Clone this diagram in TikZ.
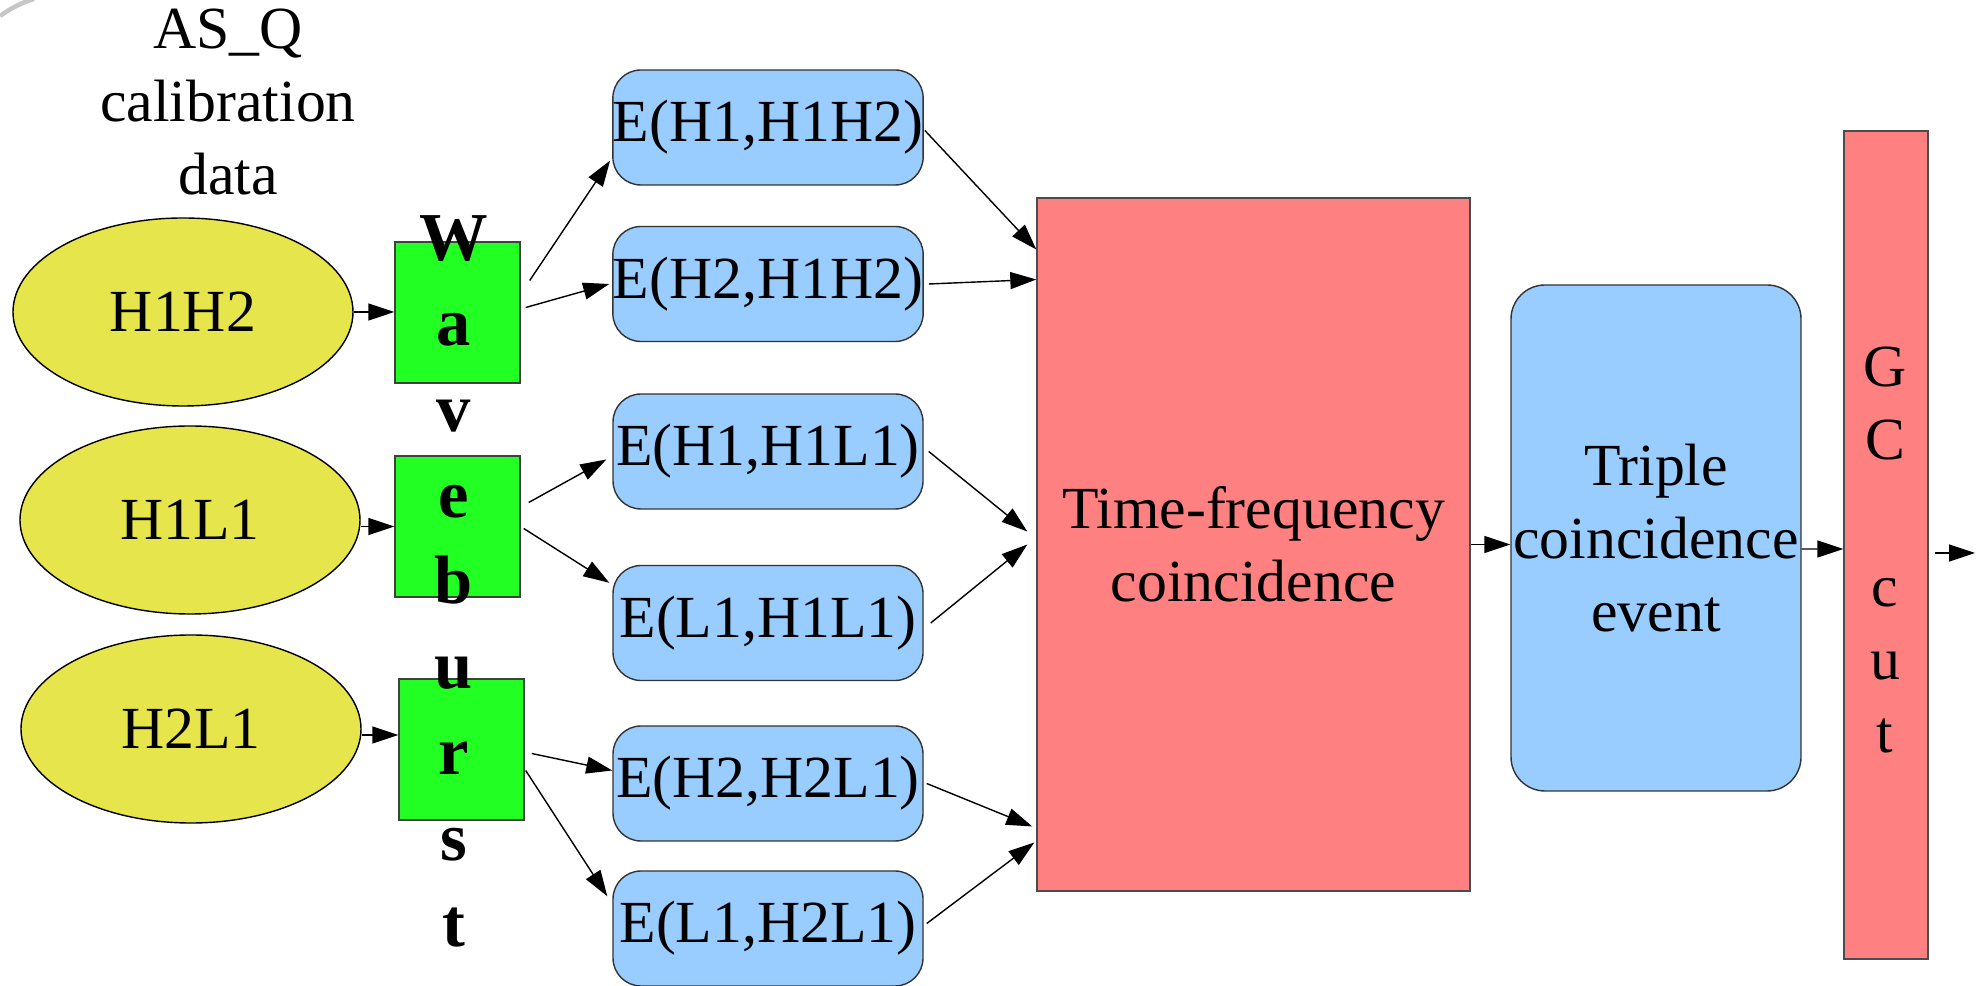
\documentclass[tikz,border=0pt]{standalone}
\usepackage{fontspec}
\setmainfont{Liberation Serif}
\definecolor{datagelb}{HTML}{E6E64C}
\definecolor{wbgruen}{HTML}{22FF22}
\definecolor{evblau}{HTML}{99CCFF}
\definecolor{cutrot}{HTML}{FF8080}
\usetikzlibrary{arrows.meta, shapes.geometric, positioning, calc}

\begin{document}
\begin{tikzpicture}[
    x=1mm, y=1mm,
    font=\fontsize{17pt}{20.8pt}\selectfont,
    datanode/.style={ellipse, draw=black, fill=datagelb, line width=0.4pt,
                     minimum width=34mm, minimum height=18.8mm, inner sep=0pt},
    wbox/.style={rectangle, draw=black!75, fill=wbgruen, line width=0.4pt,
                 minimum width=12.5mm, minimum height=14.1mm, inner sep=0pt},
    evbox/.style={rectangle, rounded corners=2.8mm, draw=black!80, fill=evblau,
                  minimum width=31mm, minimum height=11.5mm, inner sep=0pt},
    cutbox/.style={rectangle, draw=black!70, fill=cutrot, inner sep=0pt,
                   align=center},
    arr/.style={-{Triangle[length=2.6mm, width=1.7mm]}, line width=0.4pt, black}
  ]
  \useasboundingbox (0,0) rectangle (197.9,-98.6);

  % slide decoration in the corner
  \draw[gray!45, line width=1.3pt] (0,-1.6) .. controls (1.1,-0.8) and (2.3,-0.2) .. (3.4,0.1);

  % input data
  \node[align=center] (asq) at (22.8,-10.2) {AS\_Q\\ calibration\\ data};
  \node[datanode] (e1) at (18.3,-31.2) {H1H2};
  \node[datanode] (e2) at (19.0,-52.0) {H1L1};
  \node[datanode] (e3) at (19.1,-72.9) {H2L1};

  % waveburst stages
  \node[wbox] (w1) at (45.75,-31.25) {};
  \node[wbox] (w2) at (45.75,-52.65) {};
  \node[wbox] (w3) at (46.15,-74.95) {};
  \node[align=center, inner sep=0pt,
        font=\fontsize{19.5pt}{24.4pt}\selectfont\bfseries] (wb) at (45.35,-58.1)
    {W\\ a\\ v\\ e\\ b\\ u\\ r\\ s\\ t};

  % event lists
  \node[evbox] (E1) at (76.8,-12.75) {E(H1,H1H2)};
  \node[evbox] (E2) at (76.8,-28.4)  {E(H2,H1H2)};
  \node[evbox] (E3) at (76.8,-45.15) {E(H1,H1L1)};
  \node[evbox] (E4) at (76.8,-62.3)  {E(L1,H1L1)};
  \node[evbox] (E5) at (76.8,-78.35) {E(H2,H2L1)};
  \node[evbox] (E6) at (76.8,-92.85) {E(L1,H2L1)};

  % coincidence and cuts
  \node[cutbox, minimum width=43.3mm, minimum height=69.3mm] (red) at (125.35,-54.45)
    {Time-frequency\\ coincidence};
  \node[cutbox, fill=evblau, rounded corners=3.4mm, draw=black!80,
        minimum width=29mm, minimum height=50.6mm] (trip) at (165.6,-53.8)
    {Triple\\ coincidence\\ event};
  \node[cutbox, minimum width=8.4mm, minimum height=82.8mm] (gc) at (188.6,-54.5) {};
  \node[align=center, inner sep=0pt] (gclab) at (188.5,-55.0) {G\\ C\\ \mbox{}\\ c\\ u\\ t};
  \coordinate (out) at (197.5,-55.3);

  \draw[arr] (e1.east) -- (e1.east -| w1.west);
  \draw[arr] (e2.east |- w2.west) -- (w2.west);
  \coordinate (e3o) at ([yshift=-0.6mm]e3.east);
  \draw[arr] (e3o) -- (e3o -| w3.west);

  \draw[arr] ([shift={(0.9,3.2)}]w1.east) -- ([shift={(-0.2,-3.3)}]E1.west);
  \draw[arr] ([shift={(0.5,0.5)}]w1.east) -- ([xshift=-0.3mm]E2.west);
  \draw[arr] ([shift={(0.8,2.4)}]w2.east) -- ([shift={(-0.6,-0.8)}]E3.west);
  \draw[arr] ([shift={(0.3,-0.2)}]w2.east) -- ([shift={(-0.3,-1.8)}]E4.north west);
  \draw[arr] ([shift={(0.7,-0.4)}]w3.east) -- ([yshift=1.3mm]E5.west);
  \draw[arr] ([shift={(0.1,-2.1)}]w3.east) -- ([shift={(-0.5,-2.6)}]E6.north west);

  \draw[arr] ([shift={(0.1,-0.3)}]E1.east) -- ([yshift=29.5mm]red.west);
  \draw[arr] ([xshift=0.5mm]E2.east) -- ([yshift=26.5mm]red.west);
  \draw[arr] ([xshift=0.5mm]E3.east) -- ([shift={(-0.9,1.3)}]red.west);
  \draw[arr] ([xshift=0.7mm]E4.east) -- ([xshift=-0.9mm]red.west);
  \draw[arr] ([xshift=0.3mm]E5.east) -- ([shift={(-0.4,-28.2)}]red.west);
  \draw[arr] ([shift={(0.3,0.5)}]E6.east) -- ([shift={(-0.2,-29.8)}]red.west);

  \draw[arr] (red.east) -- (red.east -| trip.west);
  \draw[arr] ([yshift=-1.1mm]trip.east) -- ([yshift=-0.4mm]gc.west);
  \draw[arr] ([shift={(0.6,-0.8)}]gc.east) -- (out);
\end{tikzpicture}
\end{document}
